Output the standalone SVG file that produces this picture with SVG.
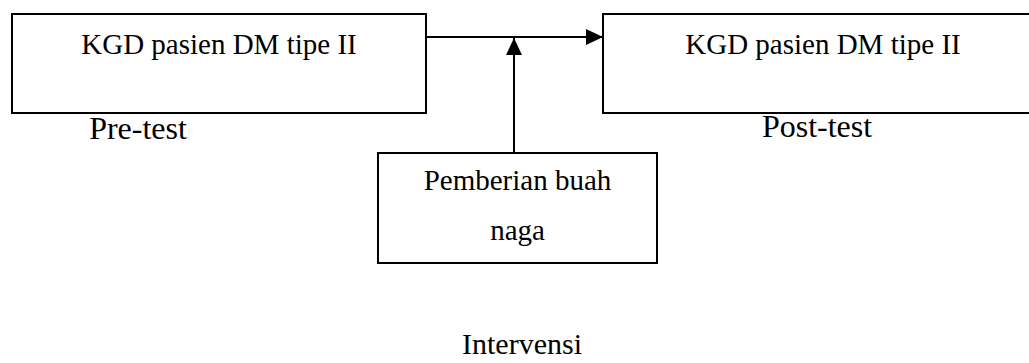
<svg xmlns="http://www.w3.org/2000/svg" width="1029" height="363" viewBox="0 0 1029 363">
<style>
.box{fill:#fff;stroke:#000;stroke-width:2}
.t{font-family:"Liberation Serif","Times New Roman",serif;fill:#000;text-anchor:middle}
.bt{font-size:29px}
.lb{font-size:32px}
.conn{stroke:#000;stroke-width:2;fill:none}
</style>
<defs>
<marker id="ah" markerWidth="17" markerHeight="16" refX="17" refY="8" orient="auto" markerUnits="userSpaceOnUse">
<path d="M0,0 L17,8 L0,16 Z" fill="#000"/>
</marker>
</defs>
<rect width="1029" height="363" fill="#fff"/>
<g id="pretest">
<rect class="box" x="12" y="14" width="414" height="99"/>
<text class="t bt" x="219" y="54">KGD pasien DM tipe II</text>
<text class="t lb" x="138" y="139">Pre-test</text>
</g>
<g id="posttest">
<rect class="box" x="603" y="14" width="440" height="99"/>
<text class="t bt" x="823" y="54">KGD pasien DM tipe II</text>
<text class="t lb" x="817" y="137">Post-test</text>
</g>
<g id="intervensi">
<rect class="box" x="378" y="153" width="279" height="110"/>
<text class="t bt" x="517.5" y="190">Pemberian buah</text>
<text class="t bt" x="517.5" y="240">naga</text>
<text class="t" style="font-size:30px" x="522" y="354">Intervensi</text>
</g>
<g id="connectors">
<line class="conn" x1="426" y1="37" x2="603" y2="37" marker-end="url(#ah)"/>
<line class="conn" x1="514" y1="153" x2="514" y2="38" marker-end="url(#ah)"/>
</g>
</svg>
